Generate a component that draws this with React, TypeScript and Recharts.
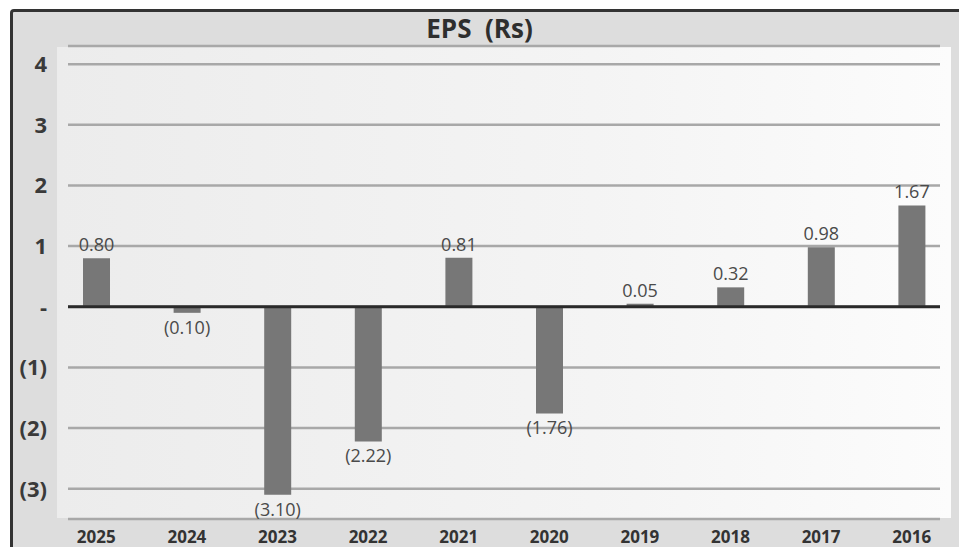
import React from "react";
import {
  BarChart,
  Bar,
  XAxis,
  YAxis,
  CartesianGrid,
  ReferenceLine,
  LabelList,
} from "recharts";

const years = ["2025", "2024", "2023", "2022", "2021", "2020", "2019", "2018", "2017", "2016"];
const eps = [0.8, -0.1, -3.1, -2.22, 0.81, -1.76, 0.05, 0.32, 0.98, 1.67];
const yTicks = [-3, -2, -1, 0, 1, 2, 3, 4];

const data = years.map((year, i) => ({ year, eps: eps[i] }));

const FONT = "'Open Sans', Lato, sans-serif";

// accounting style: negatives in brackets, zero as a dash
const fmtTick = (v: number) => (v === 0 ? "-" : v < 0 ? `(${Math.abs(v)})` : `${v}`);
const fmtValue = (v: number) => (v < 0 ? `(${Math.abs(v).toFixed(2)})` : v.toFixed(2));

const YTick = (props: any) => {
  const { x, y, payload } = props;
  return (
    <text x={x - 13} y={y} dy={8} textAnchor="end" fontSize={22} fontWeight={700} fill="#3a3a3a" fontFamily={FONT}>
      {fmtTick(payload.value)}
    </text>
  );
};

const XTick = (props: any) => {
  const { x, y, payload } = props;
  return (
    <text x={x} y={y} dy={16} textAnchor="middle" fontSize={17} fontWeight={700} fill="#333" fontFamily={FONT}>
      {payload.value}
    </text>
  );
};

const ValueLabel = (props: any) => {
  const { x, y, width, height, value } = props;
  const cx = x + width / 2;
  const top = Math.min(y, y + height);
  const bottom = Math.max(y, y + height);
  const ty = value < 0 ? bottom + 21 : top - 7;
  return (
    <text x={cx} y={ty} textAnchor="middle" fontSize={18} fill="#4a4a4a" fontFamily={FONT}>
      {fmtValue(value)}
    </text>
  );
};

export default function App() {
  return (
    <div style={{ position: "absolute", left: 0, top: 0, width: 959, height: 547, background: "#fff", overflow: "hidden" }}>
      {/* outer grey panel with dark frame */}
      <div
        style={{
          position: "absolute",
          left: 10,
          top: 9,
          width: 960,
          height: 560,
          background: "#dddddd",
          borderTop: "3px solid #333",
          borderLeft: "3px solid #333",
          borderTopLeftRadius: 4,
        }}
      />
      {/* inner plot panel */}
      <div
        style={{
          position: "absolute",
          left: 57,
          top: 47,
          width: 894,
          height: 471,
          background: "linear-gradient(to right, #ececec, #f4f4f4 60%, #fcfcfc)",
        }}
      />
      <div
        style={{
          position: "absolute",
          left: 0,
          top: 10,
          width: 959,
          textAlign: "center",
          fontFamily: FONT,
          fontWeight: 700,
          fontSize: 26,
          color: "#2e2e2e",
          whiteSpace: "pre",
        }}
      >
        {"EPS  (Rs)"}
      </div>
      <div style={{ position: "absolute", left: 0, top: 0 }}>
        <BarChart
          width={959}
          height={547}
          data={data}
          margin={{ top: 46, right: 19, bottom: 0, left: 0 }}
          barSize={27}
        >
          <CartesianGrid vertical={false} stroke="#a8a8a8" strokeWidth={2.5} />
          <XAxis
            dataKey="year"
            axisLine={false}
            tickLine={false}
            height={28}
            padding={{ left: -17, right: -17 }}
            tick={<XTick />}
            interval={0}
          />
          <YAxis
            domain={[-3.5, 4.3]}
            ticks={yTicks}
            allowDataOverflow
            axisLine={false}
            tickLine={false}
            width={68}
            tick={<YTick />}
          />
          <Bar dataKey="eps" fill="#777777" isAnimationActive={false}>
            <LabelList dataKey="eps" content={<ValueLabel />} />
          </Bar>
          <ReferenceLine y={0} stroke="#2a2a2a" strokeWidth={3} />
        </BarChart>
      </div>
    </div>
  );
}
